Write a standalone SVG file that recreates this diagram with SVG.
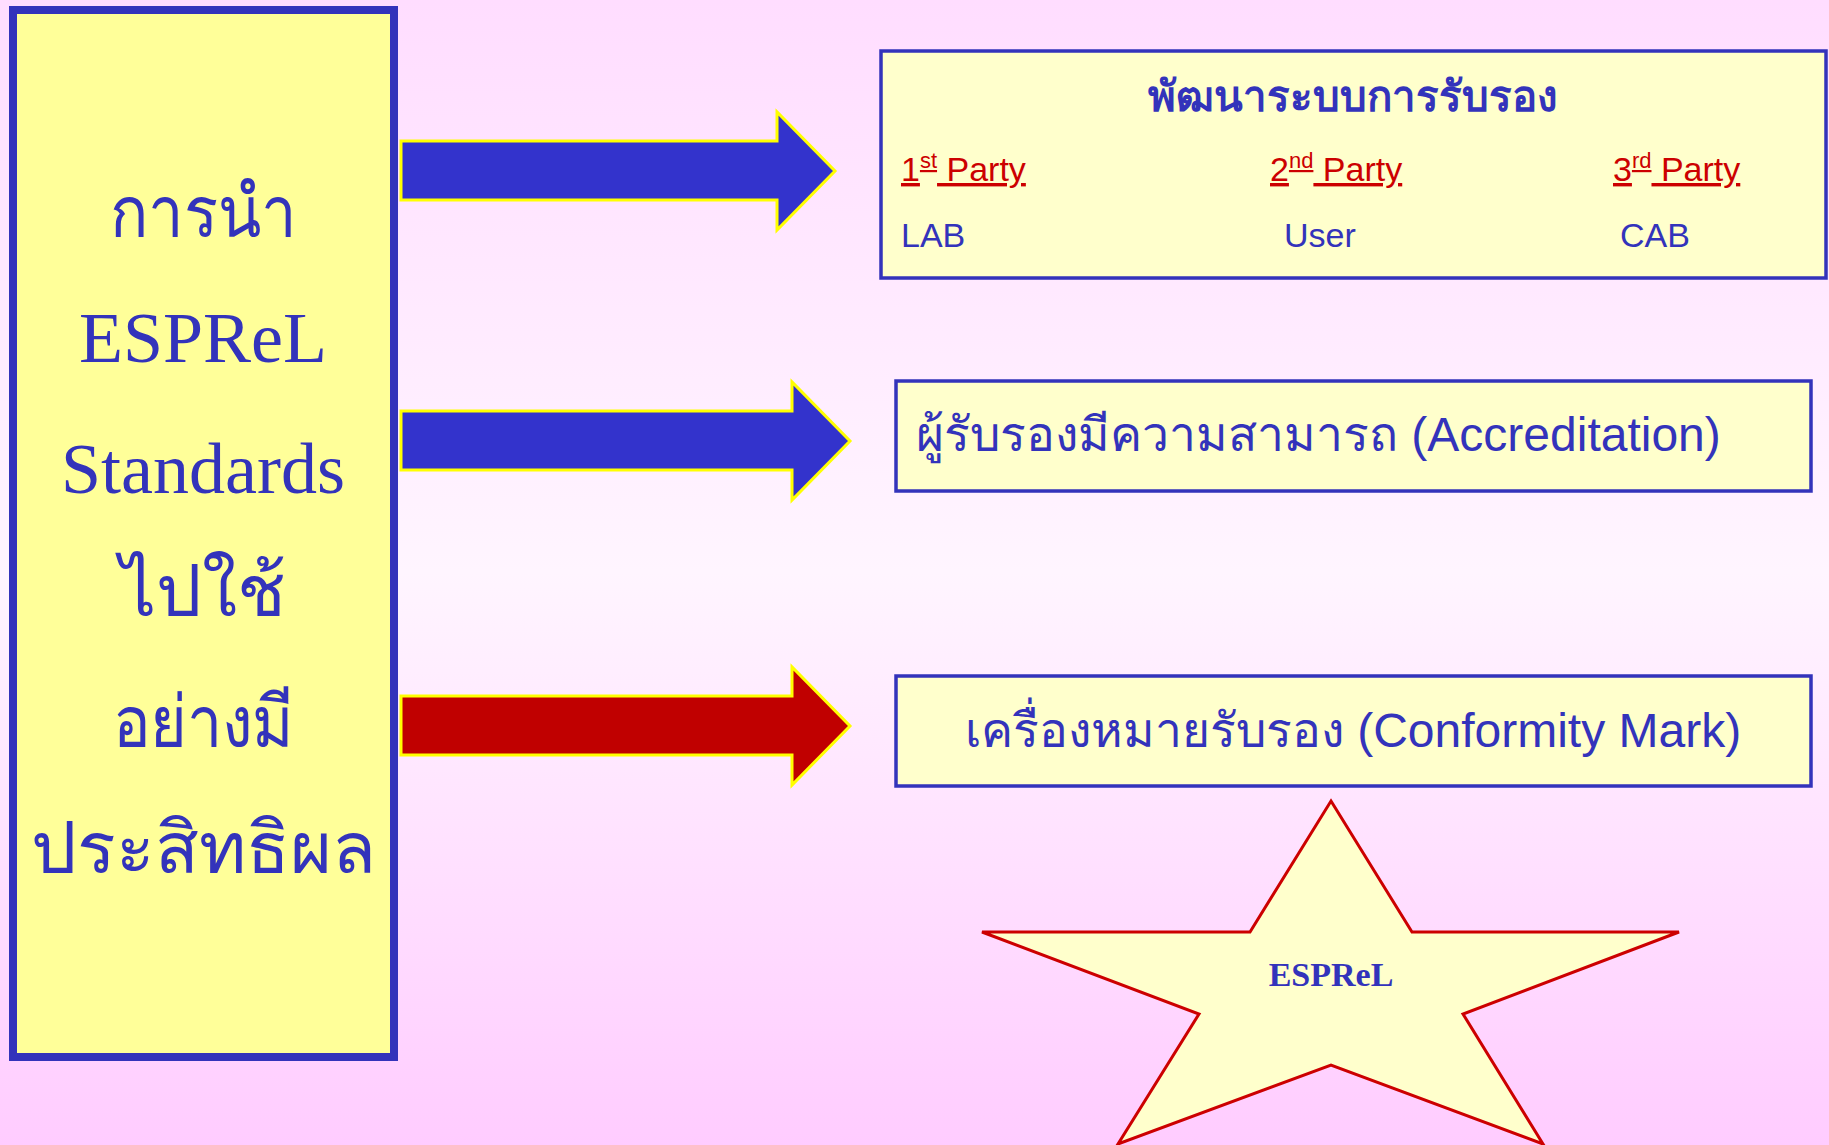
<svg xmlns="http://www.w3.org/2000/svg" width="1829" height="1145" viewBox="0 0 1829 1145">
<defs>
<linearGradient id="bg" x1="0" y1="0" x2="0" y2="1">
<stop offset="0" stop-color="#FFDDFF"/>
<stop offset="0.5" stop-color="#FFF5FF"/>
<stop offset="1" stop-color="#FFCCFF"/>
</linearGradient>
<style>
.box{fill:#FFFFCC;stroke:#3333BB;stroke-width:3.5}
.arrow{stroke:#FFFF00;stroke-width:3}
.thaiL{font-family:"Liberation Serif","DejaVu Serif","Noto Sans",serif;font-size:72px;fill:#3333BB;text-anchor:middle}
.sans{font-family:"Liberation Sans","DejaVu Sans","Noto Sans",sans-serif;fill:#3333BB}
.party{font-family:"Liberation Sans","DejaVu Sans",sans-serif;font-size:34px;fill:#CC0000;text-decoration:underline}
</style>
</defs>
<rect x="0" y="0" width="1829" height="1145" fill="url(#bg)"/>

<g id="main-box">
<rect x="13" y="10" width="381" height="1047" fill="#FFFF99" stroke="#3333BB" stroke-width="8"/>
<text class="thaiL" x="203" y="237" textLength="187" lengthAdjust="spacingAndGlyphs">การนำ</text>
<text class="thaiL" x="203" y="362">ESPReL</text>
<text class="thaiL" x="203" y="493">Standards</text>
<text class="thaiL" x="203" y="616">ไปใช้</text>
<text class="thaiL" x="203" y="747" textLength="181" lengthAdjust="spacingAndGlyphs">อย่างมี</text>
<text class="thaiL" x="203" y="873">ประสิทธิผล</text>
</g>

<g id="connectors">
<polygon class="arrow" fill="#3333CC" points="401,141 777,141 777,112 835,171 777,230 777,200 401,200"/>
<polygon class="arrow" fill="#3333CC" points="401,411 792,411 792,382 850,441 792,500 792,470 401,470"/>
<polygon class="arrow" fill="#C00000" points="401,696 792,696 792,667 850,726 792,785 792,755 401,755"/>
</g>

<g id="certification-box">
<rect class="box" x="881" y="51" width="945" height="227"/>
<text class="sans" x="1353" y="111" font-size="42" font-weight="bold" text-anchor="middle">พัฒนาระบบการรับรอง</text>
<text class="party" x="901" y="181">1<tspan font-size="22" dy="-13">st</tspan><tspan dy="13"> Party</tspan></text>
<text class="party" x="1270" y="181">2<tspan font-size="22" dy="-13">nd</tspan><tspan dy="13"> Party</tspan></text>
<text class="party" x="1613" y="181">3<tspan font-size="22" dy="-13">rd</tspan><tspan dy="13"> Party</tspan></text>
<text class="sans" x="901" y="247" font-size="34">LAB</text>
<text class="sans" x="1284" y="247" font-size="34">User</text>
<text class="sans" x="1620" y="247" font-size="34">CAB</text>
</g>

<g id="accreditation-box">
<rect class="box" x="896" y="381" width="915" height="110"/>
<text class="sans" x="916" y="451" font-size="48">ผู้รับรองมีความสามารถ (Accreditation)</text>
</g>

<g id="mark-box">
<rect class="box" x="896" y="676" width="915" height="110"/>
<text class="sans" x="1353" y="747" font-size="48" text-anchor="middle">เครื่องหมายรับรอง (Conformity Mark)</text>
</g>

<g id="star">
<polygon fill="#FFFFCC" stroke="#CC0000" stroke-width="3" points="1331,801 1412,932 1679,932 1463,1014 1543,1144 1331,1065 1118,1144 1199,1014 982,932 1250,932"/>
<text x="1331" y="986" font-family="'Liberation Serif','DejaVu Serif',serif" font-weight="bold" font-size="34" fill="#3333BB" text-anchor="middle">ESPReL</text>
</g>
</svg>
